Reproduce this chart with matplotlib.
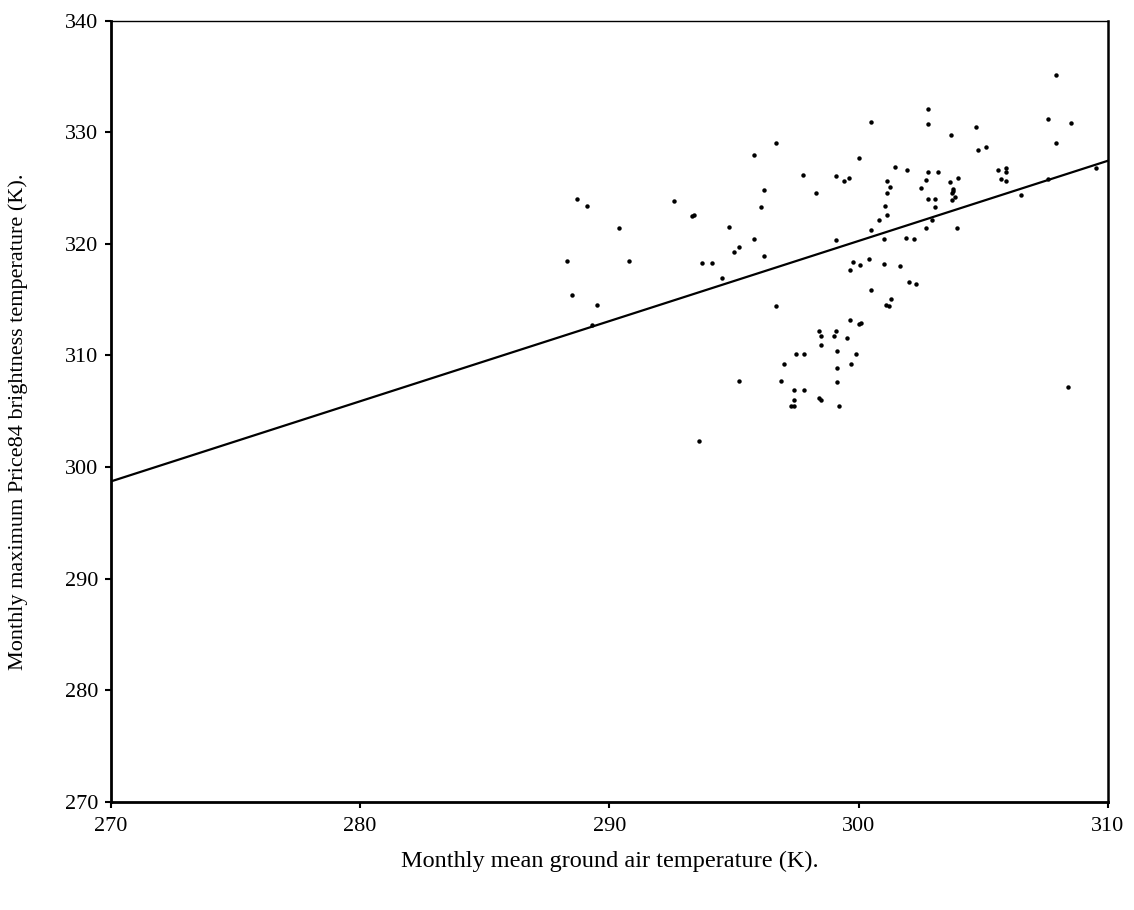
import matplotlib
matplotlib.use("Agg")
import matplotlib.pyplot as plt
import numpy as np

# Monthly mean ground air temperature (K)
air_temp = [
    288.3, 288.5, 288.7, 289.1, 289.3, 289.5, 290.4, 290.8, 292.6, 293.3,
    293.4, 293.6, 293.7, 294.1, 294.5, 294.8, 295.0, 295.2, 295.2,
    295.8, 296.7, 296.2, 296.1, 295.8, 296.2, 297.75, 298.3, 299.1, 299.4,
    299.6, 300.0, 300.5, 301.45, 301.15, 301.25, 301.15, 301.05, 301.15, 300.8,
    300.5, 299.1, 301.0, 299.76, 300.06, 300.4, 299.66, 301.0, 301.67,
    296.7, 300.5, 301.3, 301.1, 301.2, 302.0, 302.3, 299.66, 300.0, 300.1,
    298.4, 298.5, 299.1, 299.0, 299.55, 298.5, 299.15, 297.5, 297.8, 299.9,
    297.0, 299.7, 299.15, 296.9, 299.15, 297.4, 297.8, 297.4, 297.3, 297.4,
    298.4, 298.5, 299.2,
    302.8, 302.8, 307.6, 308.5, 304.7, 303.7, 307.9, 304.8, 305.1, 301.95,
    302.8, 303.2, 305.6, 305.9, 305.9, 305.7, 305.9, 302.7, 303.65, 304.0,
    302.5, 303.8, 303.8, 303.75, 302.8, 303.05, 303.85, 303.75, 303.05, 307.6,
    309.5, 306.5, 302.95, 302.7, 303.96, 301.9, 302.2, 307.9, 308.4,
]

# Monthly maximum Price84 brightness temperature (K)
bright_temp = [
    318.5, 315.4, 324.0, 323.4, 312.7, 314.5, 321.4, 318.5, 323.8, 322.5,
    322.6, 302.3, 318.3, 318.3, 316.9, 321.5, 319.3, 319.7, 307.7,
    328.0, 329.0, 324.8, 323.3, 320.4, 318.9, 326.2, 324.6, 326.1, 325.6,
    325.9, 327.7, 330.9, 326.9, 325.6, 325.1, 324.6, 323.4, 322.6, 322.1,
    321.2, 320.3, 320.4, 318.4, 318.1, 318.6, 317.7, 318.2, 318.0,
    314.4, 315.9, 315.1, 314.5, 314.4, 316.6, 316.4, 313.2, 312.8, 312.9,
    312.2, 311.7, 312.2, 311.7, 311.6, 310.9, 310.4, 310.1, 310.1, 310.1,
    309.2, 309.2, 308.9, 307.7, 307.6, 306.9, 306.9, 306.0, 305.5, 305.5,
    306.2, 306.0, 305.5,
    332.1, 330.7, 331.2, 330.8, 330.5, 329.8, 329.0, 328.4, 328.7, 326.6,
    326.4, 326.4, 326.6, 326.8, 326.4, 325.8, 325.6, 325.7, 325.5, 325.9,
    325.0, 324.9, 324.7, 324.6, 324.0, 324.0, 324.2, 323.9, 323.3, 325.8,
    326.8, 324.4, 322.1, 321.4, 321.4, 320.5, 320.4, 335.1, 307.2,
]

# Regression line end points
fit_x = [270, 310]
fit_y = [298.7, 327.45]

x_ticks = [270, 280, 290, 300, 310]
y_ticks = [270, 280, 290, 300, 310, 320, 330, 340]

plt.rcParams['font.family'] = ['Liberation Serif', 'DejaVu Serif']

fig = plt.figure(figsize=(11.34, 9.10), dpi=100)
ax = fig.add_axes([110.7 / 1134, 1 - 801.7 / 910, (1108 - 110.7) / 1134, (801.7 - 20.7) / 910])

ax.plot(air_temp, bright_temp, 'o', color='black', markersize=3.2, markeredgewidth=0)
ax.plot(fit_x, fit_y, '-', color='black', linewidth=1.6)

ax.set_xlim(270, 310)
ax.set_ylim(270, 340)
ax.set_xticks(x_ticks)
ax.set_yticks(y_ticks)
ax.tick_params(axis='both', direction='out', length=4, width=1.5, labelsize=16, color='black')
ax.tick_params(axis='x', pad=7)
ax.tick_params(axis='y', pad=5)

for side, lw in [('left', 2.0), ('bottom', 2.0), ('right', 1.8), ('top', 1.0)]:
    ax.spines[side].set_linewidth(lw)
    ax.spines[side].set_color('black')

ax.set_xlabel('Monthly mean ground air temperature (K).', fontsize=17.5, va='center')
ax.xaxis.set_label_coords(0.5, -0.077)
ax.set_ylabel('Monthly maximum Price84 brightness temperature (K).', fontsize=16, va='center')
ax.yaxis.set_label_coords(-0.093, 0.486)

fig.savefig('out.png', dpi=100)
